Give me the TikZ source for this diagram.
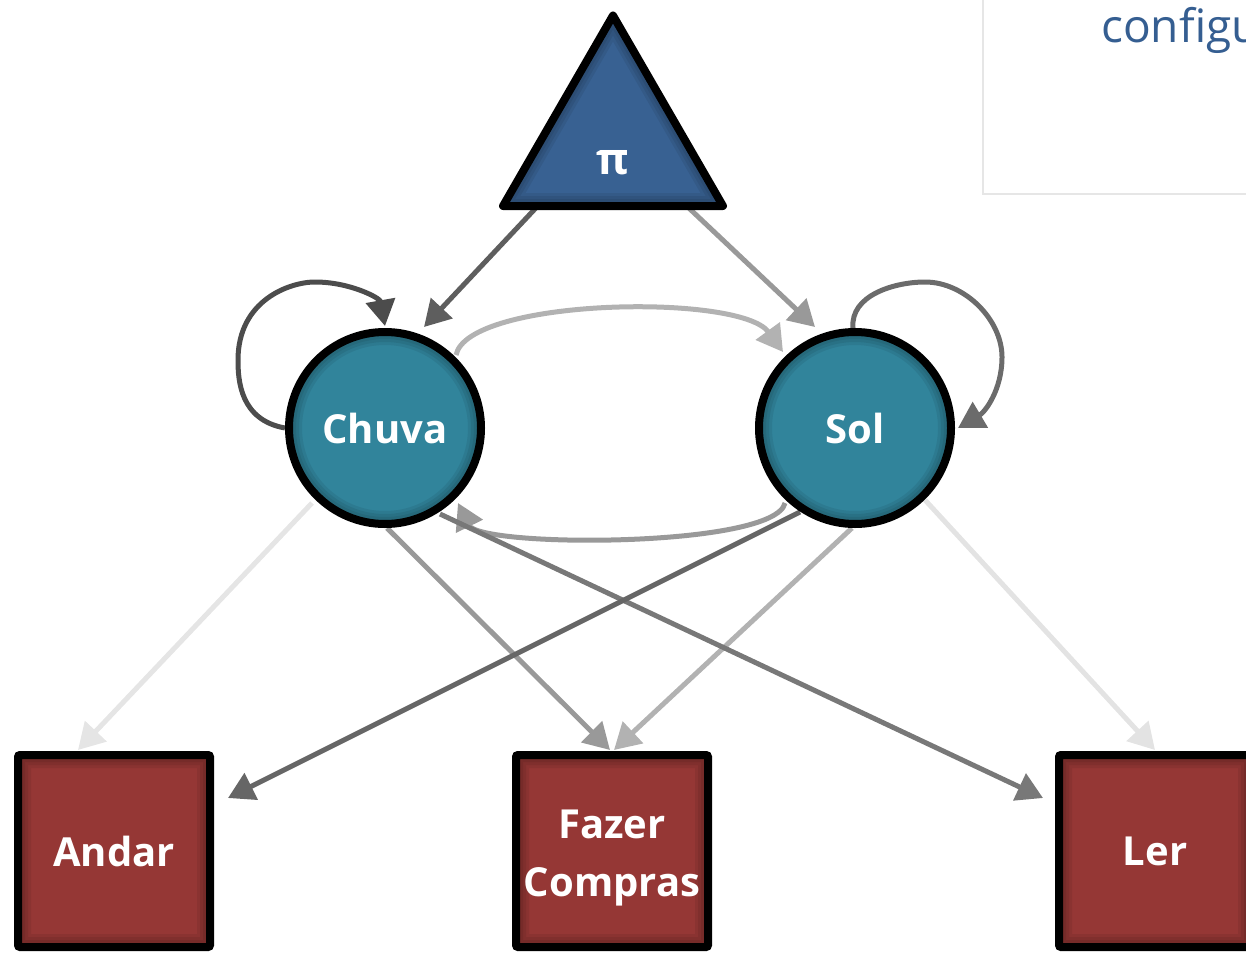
\documentclass[tikz,border=0pt]{standalone}
\usepackage{fontspec}
\setmainfont{Open Sans}
\usetikzlibrary{arrows.meta,shapes.geometric,calc}
\pgfdeclarelayer{bg}
\pgfsetlayers{bg,main}

\definecolor{policy}{HTML}{386192}
\definecolor{statefill}{HTML}{31849B}
\definecolor{actfill}{HTML}{953735}
\definecolor{headblue}{HTML}{355E91}
\definecolor{panelgray}{HTML}{E6E6E6}

\begin{document}
\begin{tikzpicture}[x=1pt,y=-1pt,
  link/.style={line width=5pt,-{Triangle[length=26pt,width=29pt]}},
  glow/.style={draw=black,line width=#1,opacity=0.07},
  lbl/.style={text=white,inner sep=0pt,align=center,
    font=\fontsize{40}{58}\selectfont\bfseries},
  statenode/.style={circle,draw=black,line width=8pt,fill=statefill,
    minimum size=192pt,inner sep=0pt,outer sep=0pt,lbl,
    path picture={
      \foreach \w in {26pt,20pt,14pt}
        \draw[glow=\w] (path picture bounding box.center) circle (96pt);}},
  actnode/.style={rectangle,draw=black,line width=8pt,fill=actfill,
    rounded corners=2pt,minimum size=192pt,inner sep=0pt,outer sep=0pt,lbl,
    path picture={
      \foreach \w in {26pt,20pt,14pt}
        \draw[glow=\w] (path picture bounding box.south west) rectangle
                       (path picture bounding box.north east);}},
  polnode/.style={regular polygon,regular polygon sides=3,draw=black,
    line width=8pt,line join=round,fill=policy,minimum size=254pt,
    inner sep=0pt,outer sep=0pt,
    path picture={
      \foreach \w in {26pt,20pt,14pt}
        \draw[glow=\w,line join=round] (path picture bounding box.north)
          -- (path picture bounding box.south west)
          -- (path picture bounding box.south east) -- cycle;}},
]
\useasboundingbox (0,0) rectangle (1246,952);

% heading panel, cut by the page edge
\begin{scope}
  \clip (0,0) rectangle (1246,952);
  \draw[draw=panelgray,line width=1.2pt] (983,-10) rectangle (1270,194);
  \node[anchor=base west,inner sep=0pt,text=headblue,
        font=\fontsize{46}{50}\selectfont] (cfg) at (1101,43) {configu};
\end{scope}

% policy, hidden states and observations
\node[polnode] (tri) at (613,142.5) {};
\node[lbl,font=\fontsize{44}{48}\selectfont\bfseries] (pi) at (613,163) {π};
\node[statenode] (chuva) at (385,428) {Chuva};
\node[statenode] (sol) at (855,428) {Sol};
\node[actnode] (andar) at (114,851) {Andar};
\node[actnode] (fazer) at (612,851) {};
\node[lbl] (fazerlbl) at (612,858) {Fazer\\Compras};
\node[actnode] (ler) at (1155,851) {Ler};

\begin{pgfonlayer}{bg}
  % initial distribution
  \draw[link,draw=black!63] ($(tri)+(-72,60)$) -- ($(chuva)+(39,-101)$);
  \draw[link,draw=black!40] ($(tri)+(70,60)$) -- ($(sol)+(-40,-101)$);

  % self transitions
  \draw[link,draw=black!70]
    ($(chuva)+(-100,0)$) .. controls ($(chuva)+(-145,-8)$) and ($(chuva)+(-147,-48)$) ..
    ($(chuva)+(-147,-68)$) .. controls ($(chuva)+(-147,-128)$) and ($(chuva)+(-95,-146)$) ..
    ($(chuva)+(-70,-146)$) .. controls ($(chuva)+(-35,-146)$) and ($(chuva)+(-5,-130)$) ..
    ($(chuva)+(0,-102)$);
  \draw[link,draw=black!58]
    ($(sol)+(-2,-100)$) .. controls ($(sol)+(-5,-133)$) and ($(sol)+(40,-146)$) ..
    ($(sol)+(70,-146)$) .. controls ($(sol)+(110,-146)$) and ($(sol)+(147,-108)$) ..
    ($(sol)+(147,-71)$) .. controls ($(sol)+(147,-38)$) and ($(sol)+(130,-16)$) ..
    ($(sol)+(103,0)$);

  % transitions between states
  \draw[link,draw=black!30]
    ($(chuva)+(71,-73)$) .. controls ($(chuva)+(83,-130)$) and ($(sol)+(-115,-135)$) ..
    ($(sol)+(-72,-76)$);
  \draw[link,draw=black!40]
    ($(sol)+(-70,75)$) .. controls ($(sol)+(-80,120)$) and ($(chuva)+(95,120)$) ..
    ($(chuva)+(73,75)$);

  % emissions
  \draw[link,draw=black!10] ($(chuva)+(-73,75)$) -- ($(andar)+(-36,-101)$);
  \draw[link,draw=black!40] ($(chuva)+(2,100)$) -- ($(fazer)+(-2,-101)$);
  \draw[link,draw=black!30] ($(sol)+(-3,100)$) -- ($(fazer)+(2,-101)$);
  \draw[link,draw=black!11] ($(sol)+(70,72)$) -- ($(ler)+(0,-101)$);
  \draw[link,draw=black!53] ($(chuva)+(55,86)$) -- ($(ler)+(-112,-53)$);
  \draw[link,draw=black!60] ($(sol)+(-55,84)$) -- ($(andar)+(114,-53)$);
\end{pgfonlayer}
\end{tikzpicture}
\end{document}
